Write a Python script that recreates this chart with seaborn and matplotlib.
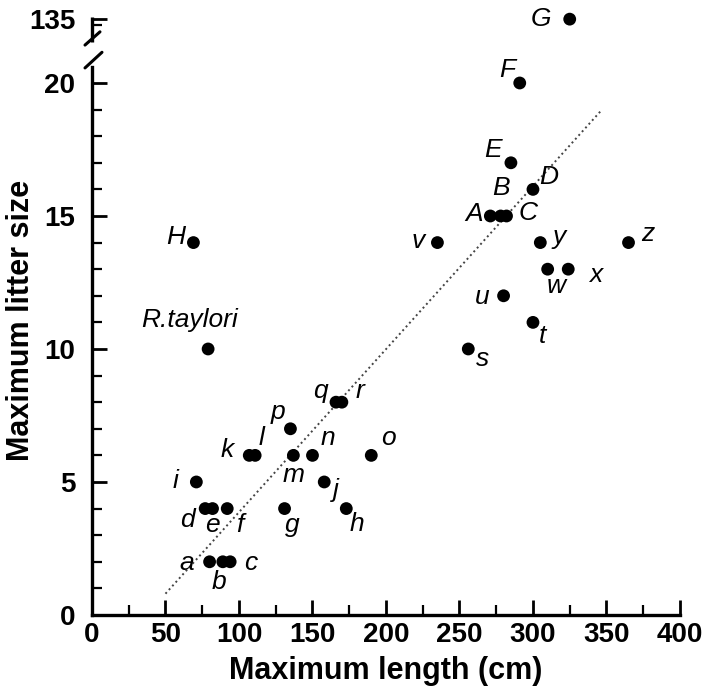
import numpy as np
import matplotlib
matplotlib.use('Agg')
import matplotlib.pyplot as plt
import seaborn as sns
import pandas as pd

# species labels, maximum length (cm) and maximum litter size
species = ['a', 'b', 'c', 'd', 'e', 'f', 'g', 'h', 'i', 'j', 'k', 'l', 'm',
           'n', 'o', 'p', 'q', 'r', 'R.taylori', 's', 't', 'u', 'v', 'w',
           'x', 'y', 'z', 'A', 'B', 'C', 'D', 'E', 'F', 'G', 'H']
max_length = [80, 89, 94, 77, 82, 92, 131, 173, 71, 158, 107, 111, 137,
              150, 190, 135, 166, 170, 79, 256, 300, 280, 235, 310,
              324, 305, 365, 271, 278, 282, 300, 285, 291, 325, 69]
max_litter = [2, 2, 2, 4, 4, 4, 4, 4, 5, 5, 6, 6, 6,
              6, 6, 7, 8, 8, 10, 10, 11, 12, 14, 13,
              13, 14, 14, 15, 15, 15, 16, 17, 20, 135, 14]

# dotted trend line ends
reg_x = [50, 347]
reg_y = [0.8, 19.0]

# label offsets from the dot, in pixels (dx, dy up)
label_offsets = {
    'a': (-23, -1), 'b': (-4, -20), 'c': (21, -1), 'd': (-18, -11),
    'e': (0, -16), 'f': (13, -16), 'g': (8, -16), 'h': (11, -15),
    'i': (-21, 1), 'j': (12, -8), 'k': (-22, 5), 'l': (6, 17),
    'm': (0, -20), 'n': (15, 17), 'o': (17, 17), 'p': (-12, 17),
    'q': (-16, 11), 'r': (18, 11), 'R.taylori': (-19, 29), 's': (14, -10),
    't': (10, -14), 'u': (-21, -1), 'v': (-19, 2), 'w': (9, -17),
    'x': (27, -6), 'y': (19, 6), 'z': (19, 9), 'A': (-16, 2),
    'B': (0, 28), 'C': (22, 3), 'D': (16, 12), 'E': (-18, 13),
    'F': (-12, 13), 'G': (-29, 0), 'H': (-18, 6),
}

df = pd.DataFrame({'species': species, 'length': max_length, 'litter': max_litter})

sns.set_style('ticks')
plt.rcParams['font.family'] = ['Liberation Sans', 'DejaVu Sans']
for key in ['text.color', 'axes.labelcolor', 'xtick.color', 'ytick.color', 'axes.edgecolor']:
    plt.rcParams[key] = 'black'

fig = plt.figure(figsize=(7.12, 6.93), dpi=100)
ax = fig.add_axes([0.1292, 0.1126, 0.8258, 0.8684])

# broken y axis: compress everything between 21 and 125
bp_in = [-100, 21, 125, 1000]
bp_out = [-100, 21, 21.95, 21.95 + 875 * 0.045]
fwd = lambda y: np.interp(y, bp_in, bp_out)
inv = lambda y: np.interp(y, bp_out, bp_in)
ax.set_yscale('function', functions=(fwd, inv))

ax.plot(reg_x, reg_y, linestyle=(0, (1, 1.6)), color='#444444', lw=1.4, zorder=1)
sns.scatterplot(data=df, x='length', y='litter', color='black', s=85,
                edgecolor='none', ax=ax, zorder=3, clip_on=False)

for name, xv, yv in zip(species, max_length, max_litter):
    dx, dy = label_offsets[name]
    ax.annotate(name, (xv, yv), xytext=(dx * 0.72, dy * 0.72),
                textcoords='offset points', ha='center', va='center',
                fontsize=19, fontstyle='italic')

ax.set_xlim(0, 400)
ax.set_ylim(0, 140)
ax.set_xticks(range(0, 401, 50))
ax.set_xticks(range(25, 400, 50), minor=True)
ax.set_yticks([0, 5, 10, 15, 20, 135])
ax.set_yticks([v for v in range(1, 21) if v % 5 != 0] + [130], minor=True)
ax.set_yticklabels(['0', '5', '10', '15', '20', '135'])

ax.tick_params(which='major', direction='in', length=11, width=2,
               labelsize=20, pad=5)
ax.tick_params(axis='y', which='major', pad=12)
ax.tick_params(which='minor', direction='in', length=7, width=1.6)
for lab in ax.get_xticklabels() + ax.get_yticklabels():
    lab.set_fontweight('bold')

for side in ['top', 'right']:
    ax.spines[side].set_visible(False)
ax.spines['bottom'].set_linewidth(2.4)
ax.spines['left'].set_linewidth(2.4)
ax.spines['left'].set_bounds(0, 20.6)

# upper piece of the y spine and break marks
ax.plot([0, 0], [0.952, 0.994], transform=ax.transAxes, color='black',
        lw=2.4, clip_on=False, solid_capstyle='butt')
ax.plot([-0.0119, 0.0136], [0.947, 0.969], transform=ax.transAxes,
        color='black', lw=2.2, clip_on=False)
ax.plot([-0.0119, 0.0170], [0.909, 0.935], transform=ax.transAxes,
        color='black', lw=2.2, clip_on=False)

ax.set_xlabel('Maximum length (cm)', fontsize=22, fontweight='bold', labelpad=6)
ax.set_ylabel('Maximum litter size', fontsize=22, fontweight='bold')
ax.yaxis.set_label_coords(-0.095, 0.49)

fig.savefig('out.png', dpi=100)
